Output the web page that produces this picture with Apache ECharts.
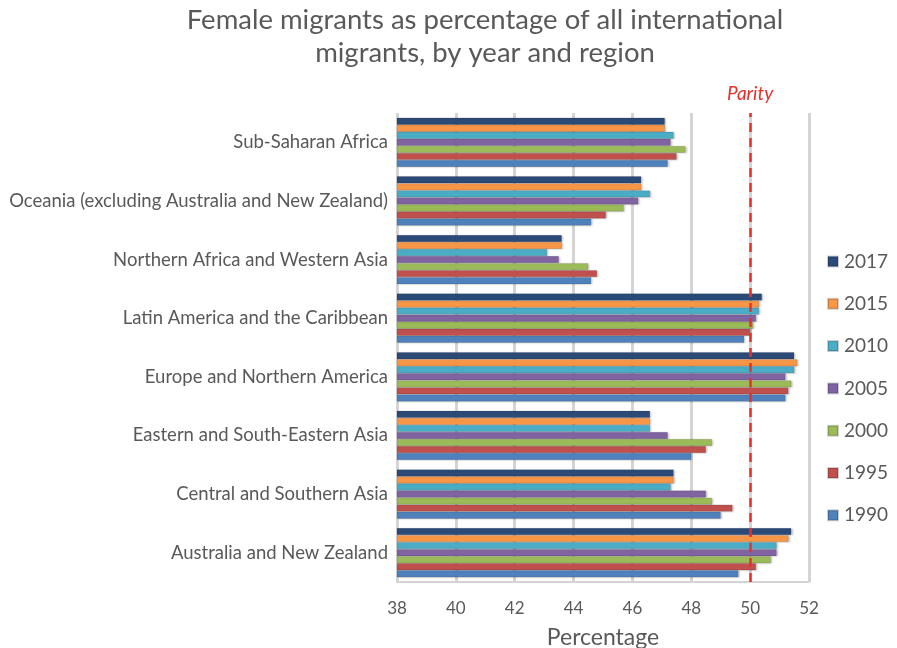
<!DOCTYPE html>
<html>
<head>
<meta charset="utf-8">
<script src="https://cdn.jsdelivr.net/npm/echarts@6/dist/echarts.min.js"></script>
<style>
  html, body { margin: 0; padding: 0; background: #fff; }
  #chart { width: 897px; height: 648px; }
</style>
</head>
<body>
<div id="chart"></div>
<script>
// regions, bottom to top
const regions = [
  'Australia and New Zealand',
  'Central and Southern Asia',
  'Eastern and South-Eastern Asia',
  'Europe and Northern America',
  'Latin America and the Caribbean',
  'Northern Africa and Western Asia',
  'Oceania (excluding Australia and New Zealand)',
  'Sub-Saharan Africa'
];

// first series is drawn on top of each group
const years = ['2017', '2015', '2010', '2005', '2000', '1995', '1990'];

// female share (%) per region, same order as regions
const v1990 = [49.6, 49.0, 48.0, 51.2, 49.8, 44.6, 44.6, 47.2];
const v1995 = [50.2, 49.4, 48.5, 51.3, 50.0, 44.8, 45.1, 47.5];
const v2000 = [50.7, 48.7, 48.7, 51.4, 50.1, 44.5, 45.7, 47.8];
const v2005 = [50.9, 48.5, 47.2, 51.2, 50.2, 43.5, 46.2, 47.3];
const v2010 = [50.9, 47.3, 46.6, 51.5, 50.3, 43.1, 46.6, 47.4];
const v2015 = [51.3, 47.4, 46.6, 51.6, 50.3, 43.6, 46.3, 47.1];
const v2017 = [51.4, 47.4, 46.6, 51.5, 50.4, 43.6, 46.3, 47.1];

const parity = 50;
const xTicks = [38, 40, 42, 44, 46, 48, 50, 52];

const colors = {
  '1990': '#4F81BD', '1995': '#C0504D', '2000': '#9BBB59', '2005': '#8064A2',
  '2010': '#4BACC6', '2015': '#F79646', '2017': '#2C4A78'
};
const seriesData = {
  '1990': v1990, '1995': v1995, '2000': v2000, '2005': v2005,
  '2010': v2010, '2015': v2015, '2017': v2017
};

const font = 'Lato, "Liberation Sans", sans-serif';
const grey = '#595959';

const chart = echarts.init(document.getElementById('chart'));

const series = years.map((y, i) => {
  const s = {
    name: y,
    type: 'bar',
    data: seriesData[y],
    barGap: '0%',
    barCategoryGap: '16%',
    itemStyle: {
      color: colors[y],
      borderColor: 'rgba(0,0,0,0.18)',
      borderWidth: 0.6,
      shadowColor: 'rgba(0,0,0,0.25)',
      shadowBlur: 2,
      shadowOffsetX: 1.5,
      shadowOffsetY: 0.5
    }
  };
  if (i === 0) {
    s.markLine = {
      symbol: ['none', 'none'],
      silent: true,
      lineStyle: { color: '#E8302A', type: [9, 6], width: 2.5 },
      label: {
        show: true,
        position: 'end',
        formatter: 'Parity',
        color: '#E8302A',
        fontStyle: 'italic',
        fontFamily: font,
        fontSize: 19,
        distance: 10
      },
      data: [{ xAxis: parity }]
    };
  }
  return s;
});

chart.setOption({
  animation: false,
  title: {
    text: 'Female migrants as percentage of all international\nmigrants, by year and region',
    left: 480,
    textAlign: 'center',
    top: -1,
    textStyle: {
      color: grey,
      fontFamily: font,
      fontWeight: 'normal',
      fontSize: 27.5,
      lineHeight: 33
    }
  },
  legend: {
    orient: 'vertical',
    left: 822,
    top: 247,
    data: years,
    itemWidth: 10,
    itemHeight: 10,
    itemGap: 23.3,
    icon: 'rect',
    textStyle: { color: grey, fontFamily: font, fontSize: 19, padding: [0, 0, 0, 1] }
  },
  grid: {
    left: 397,
    right: 88,
    top: 113,
    bottom: 66,
    containLabel: false,
    outerBoundsMode: 'none'
  },
  xAxis: {
    type: 'value',
    min: xTicks[0],
    max: xTicks[xTicks.length - 1],
    interval: 2,
    name: 'Percentage',
    nameLocation: 'middle',
    nameGap: 44,
    nameTextStyle: { color: grey, fontFamily: font, fontSize: 23 },
    axisLine: { show: true, lineStyle: { color: '#d4d4d4', width: 2 } },
    axisTick: { show: false },
    axisLabel: { color: grey, fontFamily: font, fontSize: 17, margin: 18 },
    splitLine: { show: true, lineStyle: { color: '#d4d4d4', width: 3 } }
  },
  yAxis: {
    type: 'category',
    data: regions,
    axisLine: { show: false },
    axisTick: { show: false },
    axisLabel: { color: grey, fontFamily: font, fontSize: 18.5, margin: 9 },
    splitLine: { show: false }
  },
  series: series
});
</script>
</body>
</html>
